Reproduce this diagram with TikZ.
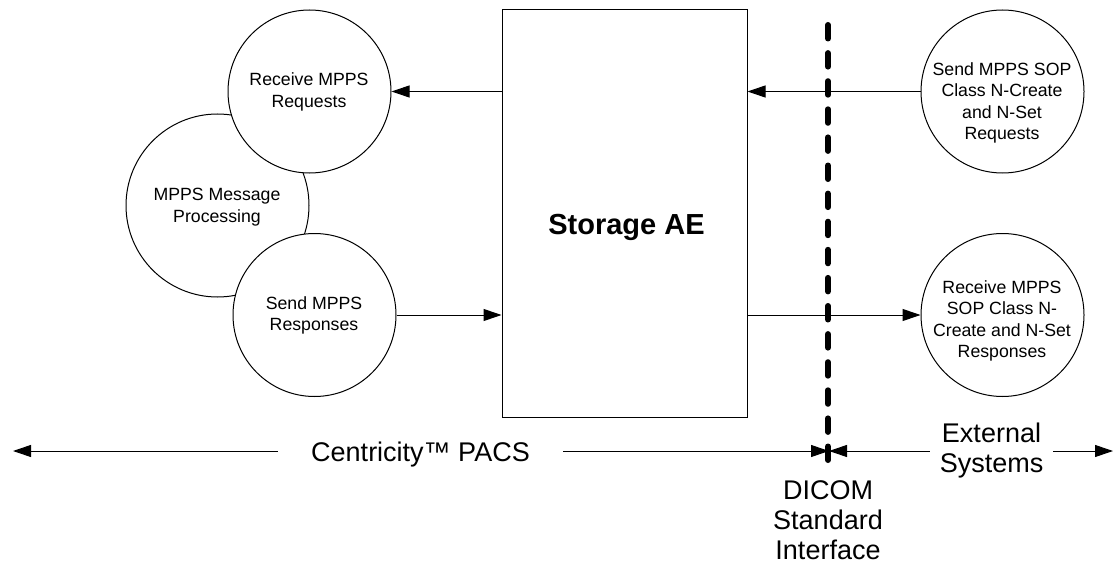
\documentclass[tikz,border=0pt]{standalone}
\usepackage{fontspec}
\setmainfont{Liberation Sans}
\usetikzlibrary{arrows.meta,calc}
\begin{document}
\begin{tikzpicture}[x=1pt,y=-1pt,
  proc/.style={circle,draw,line width=1pt,fill=white,inner sep=0pt},
  ptext/.style={font=\fontsize{17.7}{21.5}\selectfont,align=center,inner sep=0pt},
  big/.style={font=\fontsize{27}{30}\selectfont,align=center,inner sep=0pt},
  arr/.style={line width=1pt,-{Triangle[length=18pt,width=12pt]}},
  boundary/.style={line width=6pt,line cap=round,dash pattern=on 13.5pt off 14.6pt}
  ]
\useasboundingbox (0,0) rectangle (1119,567);
% process circles
\node[proc,minimum size=183pt] (mp) at (217.5,205.5) {};
\node[proc,minimum size=163pt] (rq) at (309.5,91.5) {};
\node[proc,minimum size=163pt] (sr) at (314.5,315) {};
\node[proc,minimum size=163pt] (sq) at (1002.5,91.5) {};
\node[proc,minimum size=163pt] (rr) at (1002.5,315) {};
% texts
\node[ptext] (rqt) at (309,92) {Receive MPPS\\Requests};
\node[ptext] (mpt) at (217,207) {MPPS Message\\Processing};
\node[ptext] (srt) at (314,315.5) {Send MPPS\\Responses};
\node[ptext] (sqt) at (1002,103) {Send MPPS SOP\\Class N-Create\\and N-Set\\Requests};
\node[ptext] (rrt) at (1002,321) {Receive MPPS\\SOP Class N-\\Create and N-Set\\Responses};
% storage AE box
\node[draw,line width=1pt,minimum width=245pt,minimum height=407pt,inner sep=0pt] (sae) at (624.5,213.5) {};
\node[font=\bfseries\fontsize{29}{34}\selectfont,inner sep=0pt] (saet) at (626.5,227) {Storage AE};
% arrows
\draw[arr] (sae.west |- rq.east) -- (rq.east);
\draw[arr] (sr.east) -- (sr.east -| sae.west);
\draw[arr] (sq.west) -- (sq.west -| sae.east);
\draw[arr] (sae.east |- rr.west) -- (rr.west);
% boundary
\coordinate (dt) at (828,25);
\coordinate (db) at (828,460);
\draw[boundary] (dt) -- (db);
% bottom
\coordinate (lt) at (13,451);
\coordinate (mid) at (829,451);
\coordinate (rt) at (1113,451);
\node[big,minimum width=285pt] (cent) at (420.5,455) {Centricity™ PACS};
\node[big,minimum width=123pt] (ext) at (991.5,451) {External\\Systems};
\node[big,anchor=north] (dic) at (828,480) {DICOM\\Standard\\Interface};
\draw[arr] (cent.west |- lt) -- (lt);
\draw[arr] (cent.east |- lt) -- (mid);
\draw[arr] (ext.west |- mid) -- (mid);
\draw[arr] (ext.east |- rt) -- (rt);
\end{tikzpicture}
\end{document}
